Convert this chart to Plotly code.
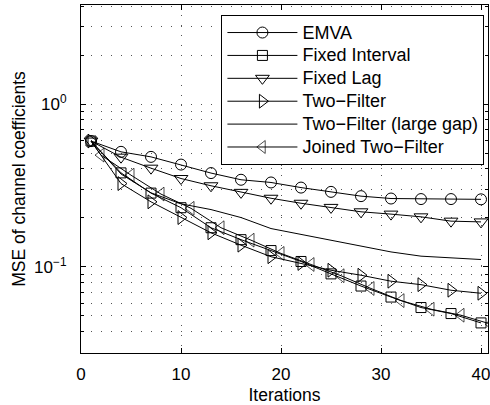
import plotly.graph_objects as go
import math

# ---- data ----
iters = [1, 4, 7, 10, 13, 16, 19, 22, 25, 28, 31, 34, 37, 40]
iters_joined = [1, 2, 5, 8, 11, 14, 17, 20, 23, 26, 29, 32, 35, 38, 41]

emva = [0.593, 0.509, 0.474, 0.425, 0.377, 0.343, 0.330, 0.307, 0.289, 0.272, 0.263, 0.261, 0.261, 0.260]
fixed_interval = [0.593, 0.378, 0.284, 0.231, 0.174, 0.147, 0.126, 0.108, 0.0906, 0.0763, 0.0653, 0.0563, 0.0517, 0.0453]
fixed_lag = [0.593, 0.472, 0.404, 0.349, 0.315, 0.287, 0.264, 0.246, 0.232, 0.218, 0.211, 0.203, 0.191, 0.189]
two_filter = [0.593, 0.325, 0.251, 0.201, 0.162, 0.136, 0.1155, 0.105, 0.0954, 0.0889, 0.0817, 0.0778, 0.0719, 0.0689]
two_filter_gap = [0.593, 0.372, 0.285, 0.244, 0.225, 0.201, 0.172, 0.158, 0.146, 0.1346, 0.1236, 0.1164, 0.1133, 0.111]
joined = [0.593, 0.486, 0.366, 0.280, 0.229, 0.174, 0.146, 0.121, 0.1035, 0.0883, 0.0737, 0.0621, 0.0550, 0.0505, 0.0445]

names = ["EMVA", "Fixed Interval", "Fixed Lag", "Two\u2212Filter",
         "Two\u2212Filter (large gap)", "Joined Two\u2212Filter"]

x_ticks = [0, 10, 20, 30, 40]
y_major = [0.1, 1]
y_major_text = ["10<sup>\u22121</sup>", "10<sup>0</sup>"]
y_minor = [0.03, 0.04, 0.05, 0.06, 0.07, 0.08, 0.09,
           0.2, 0.3, 0.4, 0.5, 0.6, 0.7, 0.8, 0.9, 2, 3, 4]

FONT = "Liberation Sans, Arial, Helvetica, sans-serif"
LINE = dict(color="black", width=1)


def legend_label(s):
    return "<span style='font-size:18px'>" + s + "</span>"


fig = go.Figure()


def add(x, y, name, symbol, size):
    mode = "lines+markers" if symbol else "lines"
    fig.add_trace(go.Scatter(
        x=x, y=y, name=legend_label(name), mode=mode, line=LINE,
        marker=dict(symbol=symbol or "circle", size=size, color="black",
                    line=dict(color="black", width=1)),
    ))


add(iters, emva, names[0], "circle-open", 11)
add(iters, fixed_interval, names[1], "square-open", 10)
add(iters, fixed_lag, names[2], "triangle-down-open", 12)
add(iters, two_filter, names[3], "triangle-right-open", 12)
add(iters, two_filter_gap, names[4], None, 0)
joined_sizes = [0] + [12] * (len(iters_joined) - 1)
fig.add_trace(go.Scatter(
    x=iters_joined, y=joined, name=legend_label(names[5]), mode="lines+markers", line=LINE,
    marker=dict(symbol="triangle-left-open", size=joined_sizes, color="black",
                line=dict(color="black", width=1)),
))

grid = dict(gridcolor="#555555", griddash="1px,9px", gridwidth=1)

fig.update_layout(
    width=490, height=405,
    margin=dict(l=81, r=0, t=5, b=52),
    paper_bgcolor="white", plot_bgcolor="white",
    font=dict(family=FONT, size=17, color="black"),
    showlegend=True,
    legend=dict(
        x=0.345, y=0.971, xanchor="left", yanchor="top",
        bgcolor="white", bordercolor="black", borderwidth=1,
        font=dict(family=FONT, size=15.3, color="black"),
        itemwidth=70, tracegroupgap=0,
    ),
    xaxis=dict(
        range=[0, 40.7], tickmode="array", tickvals=x_ticks,
        ticks="inside", ticklen=5, tickcolor="black",
        showline=True, linecolor="black", linewidth=1, mirror="ticks",
        showgrid=True, zeroline=False, ticklabelstandoff=6,
        ticklabeloverflow="allow",
        title=dict(text="Iterations", font=dict(size=17.5), standoff=8),
        **grid,
    ),
    yaxis=dict(
        type="log", range=[math.log10(0.0296), math.log10(4.06)],
        tickmode="array", tickvals=y_major, ticktext=y_major_text,
        ticks="inside", ticklen=5, tickcolor="black",
        showline=True, linecolor="black", linewidth=1, mirror="ticks",
        showgrid=True, zeroline=False, ticklabelstandoff=10,
        minor=dict(tickmode="array", tickvals=y_minor, ticks="inside",
                   ticklen=3, tickcolor="black", showgrid=True, **grid),
        title=dict(text="MSE of channel coefficients", font=dict(size=17.5), standoff=3),
        **grid,
    ),
)

fig.write_html("out.html")
